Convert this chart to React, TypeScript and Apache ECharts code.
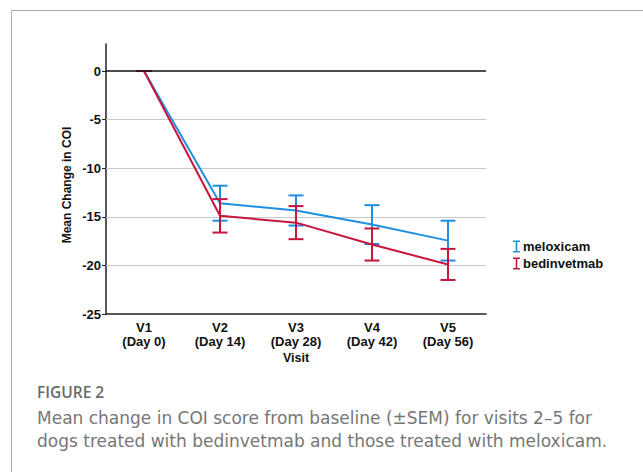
import React, { useEffect, useRef } from "react";
import * as echarts from "echarts";

const visits = ["V1\n(Day 0)", "V2\n(Day 14)", "V3\n(Day 28)", "V4\n(Day 42)", "V5\n(Day 56)"];
const meloxicamMean = [0, -13.6, -14.35, -15.8, -17.45];
const meloxicamSEM = [0, 1.8, 1.55, 2.0, 2.05];
const bedinvetmabMean = [0, -14.9, -15.6, -17.85, -19.9];
const bedinvetmabSEM = [0, 1.72, 1.7, 1.65, 1.6];
const yTicks = [-25, -20, -15, -10, -5, 0];
const gridValues = [-20, -15, -10, -5];

const BLUE = "#1E8FE1";
const RED = "#C8153C";
const AX = "'Liberation Sans', Arial, sans-serif";
const CAP = "'DejaVu Sans', sans-serif";

function errData(mean: number[], sem: number[]) {
  return mean.map((m, i) => [i, m - sem[i], m + sem[i]]);
}

function errSeries(name: string, color: string, mean: number[], sem: number[]) {
  return {
    type: "custom",
    name: name + "-err",
    data: errData(mean, sem),
    encode: { x: 0, y: [1, 2] },
    silent: true,
    z: 3,
    renderItem: (params: any, api: any) => {
      const x = api.value(0);
      const lo = api.coord([x, api.value(1)]);
      const hi = api.coord([x, api.value(2)]);
      const hw = 7.5;
      const style = { stroke: color, lineWidth: 2 };
      return {
        type: "group",
        children: [
          { type: "line", shape: { x1: lo[0], y1: lo[1], x2: hi[0], y2: hi[1] }, style },
          { type: "line", shape: { x1: lo[0] - hw, y1: lo[1], x2: lo[0] + hw, y2: lo[1] }, style },
          { type: "line", shape: { x1: hi[0] - hw, y1: hi[1], x2: hi[0] + hw, y2: hi[1] }, style },
        ],
      };
    },
  };
}

export default function App() {
  const ref = useRef<HTMLDivElement>(null);
  useEffect(() => {
    document.body.style.margin = "0";
    const chart = echarts.init(ref.current!, null, { renderer: "svg" });
    const iPath = "path://M0,0H7V1.6H4.3V10.4H7V12H0V10.4H2.7V1.6H0Z";
    chart.setOption({
      animation: false,
      backgroundColor: "#fff",
      grid: { left: 106, right: 157, top: 44, bottom: 158 },
      xAxis: {
        type: "category",
        data: visits,
        boundaryGap: true,
        axisLine: { onZero: false, lineStyle: { color: "#222", width: 1.5 } },
        axisTick: { show: false },
        axisLabel: {
          fontFamily: AX,
          fontWeight: "bold",
          fontSize: 13,
          color: "#111",
          lineHeight: 14,
          margin: 6,
        },
        splitLine: { show: false },
      },
      yAxis: {
        type: "value",
        min: -25,
        max: 2.78,
        axisLine: { show: true, lineStyle: { color: "#222", width: 1.5 } },
        axisTick: { show: true, length: 4, customValues: yTicks, lineStyle: { color: "#222", width: 1 } },
        axisLabel: {
          customValues: yTicks,
          fontFamily: AX,
          fontWeight: "bold",
          fontSize: 13,
          color: "#111",
          margin: 5,
        },
        splitLine: { show: false },
      },
      legend: {
        orient: "vertical",
        left: 508,
        top: 235,
        itemWidth: 7,
        itemHeight: 12,
        itemGap: 4,
        data: [
          { name: "meloxicam", icon: iPath },
          { name: "bedinvetmab", icon: iPath },
        ],
        textStyle: { fontFamily: AX, fontWeight: "bold", fontSize: 13, color: "#111", padding: [0, 0, 0, -2] },
      },
      series: [
        {
          type: "line",
          name: "meloxicam",
          data: meloxicamMean,
          color: BLUE,
          showSymbol: false,
          symbol: "none",
          lineStyle: { color: BLUE, width: 2 },
          itemStyle: { color: BLUE },
          z: 2,
          markLine: {
            silent: true,
            symbol: "none",
            label: { show: false },
            lineStyle: { color: "#c8c8c8", width: 1, type: "solid" },
            data: gridValues.map((v) => ({ yAxis: v })),
            z: 1,
          },
        },
        errSeries("meloxicam", BLUE, meloxicamMean, meloxicamSEM),
        {
          type: "line",
          name: "bedinvetmab",
          data: bedinvetmabMean,
          color: RED,
          showSymbol: false,
          symbol: "none",
          lineStyle: { color: RED, width: 2 },
          itemStyle: { color: RED },
          z: 4,
          markLine: {
            silent: true,
            symbol: "none",
            label: { show: false },
            lineStyle: { color: "#111", width: 1.5, type: "solid" },
            data: [{ yAxis: 0 }],
          },
        },
        errSeries("bedinvetmab", RED, bedinvetmabMean, bedinvetmabSEM),
      ],
      graphic: [
        {
          type: "polyline",
          shape: { points: [[11.5, 472], [11.5, 10.5], [643, 10.5]] },
          style: { stroke: "#aaa", lineWidth: 1, fill: "none" },
        },
        {
          type: "text",
          x: 67,
          y: 185,
          rotation: Math.PI / 2,
          style: {
            text: "Mean Change in COI",
            fontFamily: AX,
            fontWeight: "bold",
            fontSize: 12,
            fill: "#111",
            align: "center",
            verticalAlign: "middle",
          },
        },
        {
          type: "text",
          x: 296,
          y: 358,
          style: {
            text: "Visit",
            fontFamily: AX,
            fontWeight: "bold",
            fontSize: 12.5,
            fill: "#111",
            align: "center",
            verticalAlign: "middle",
          },
        },
        {
          type: "text",
          x: 37,
          y: 392,
          style: {
            text: "FIGURE 2",
            fontFamily: "'Open Sans', sans-serif",
            fontWeight: 600,
            fontSize: 15.5,
            fill: "#6a6a6a",
            verticalAlign: "middle",
          },
        },
        {
          type: "text",
          x: 37,
          y: 418,
          style: {
            text: "Mean change in COI score from baseline (\u00B1SEM) for visits 2\u20135 for",
            fontFamily: CAP,
            fontSize: 17,
            fill: "#767676",
            verticalAlign: "middle",
          },
        },
        {
          type: "text",
          x: 37,
          y: 441,
          style: {
            text: "dogs treated with bedinvetmab and those treated with meloxicam.",
            fontFamily: CAP,
            fontSize: 17,
            fill: "#767676",
            verticalAlign: "middle",
          },
        },
      ],
    });
    return () => chart.dispose();
  }, []);
  return (
    <div
      ref={ref}
      style={{ position: "fixed", left: 0, top: 0, width: 643, height: 472 }}
    />
  );
}
